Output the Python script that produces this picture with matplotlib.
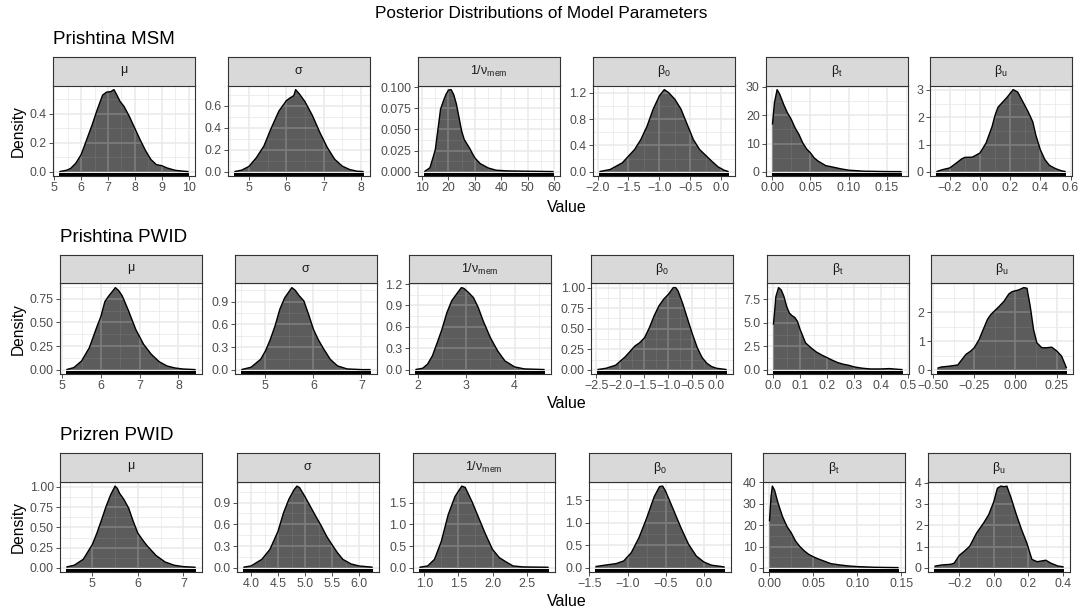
import numpy as np
import matplotlib
matplotlib.use("Agg")
import matplotlib.pyplot as plt
from matplotlib.patches import Rectangle, Polygon
import matplotlib.transforms as mtransforms

plt.rcParams['font.family'] = ['Liberation Sans', 'DejaVu Sans']
plt.rcParams['mathtext.fontset'] = 'custom'
plt.rcParams['mathtext.rm'] = 'Liberation Sans'
plt.rcParams['mathtext.it'] = 'Liberation Sans:italic'

# ---------------- data ----------------
title = "Posterior Distributions of Model Parameters"
groups = ["Prishtina MSM", "Prishtina PWID", "Prizren PWID"]
params = [r"$\mathrm{\mu}$", r"$\mathrm{\sigma}$", r"$\mathrm{1/\nu_{mem}}$",
          r"$\mathrm{\beta_0}$", r"$\mathrm{\beta_t}$", r"$\mathrm{\beta_u}$"]

# Prishtina MSM
msm_mu_x = [5.19, 5.45, 5.6, 5.8, 6.0, 6.2, 6.4, 6.6, 6.8, 6.95, 7.1, 7.22, 7.3, 7.45, 7.6, 7.8, 8.0, 8.2, 8.4, 8.6, 8.8, 9.0, 9.2, 9.5, 9.8, 10.0]
msm_mu_y = [0.002, 0.011, 0.023, 0.06, 0.12, 0.22, 0.32, 0.43, 0.53, 0.55, 0.553, 0.567, 0.54, 0.485, 0.45, 0.38, 0.30, 0.22, 0.146, 0.085, 0.05, 0.043, 0.027, 0.011, 0.005, 0.002]
msm_sigma_x = [4.61, 4.8, 5.0, 5.2, 5.4, 5.6, 5.8, 6.0, 6.1, 6.2, 6.25, 6.35, 6.5, 6.7, 6.9, 7.1, 7.3, 7.5, 7.7, 7.9, 8.07]
msm_sigma_y = [0.003, 0.015, 0.05, 0.13, 0.235, 0.40, 0.55, 0.645, 0.67, 0.69, 0.745, 0.706, 0.636, 0.51, 0.356, 0.22, 0.113, 0.052, 0.021, 0.006, 0.003]
msm_nu_x = [10.9, 13, 15, 16, 17, 18, 19, 20, 21, 22, 23, 24, 25, 26, 27, 28, 29, 30, 32, 35, 38, 42, 50, 59.8]
msm_nu_y = [0.0004, 0.005, 0.026, 0.05, 0.074, 0.083, 0.091, 0.0965, 0.097, 0.091, 0.08, 0.064, 0.048, 0.038, 0.033, 0.028, 0.022, 0.0165, 0.0098, 0.0047, 0.002, 0.0012, 0.0008, 0.0004]
msm_b0_x = [-1.97, -1.8, -1.6, -1.4, -1.3, -1.2, -1.1, -1.0, -0.92, -0.85, -0.75, -0.65, -0.55, -0.45, -0.35, -0.25, -0.15, -0.05, 0.05, 0.12]
msm_b0_y = [0.005, 0.035, 0.137, 0.34, 0.49, 0.69, 0.95, 1.15, 1.245, 1.2, 1.10, 0.95, 0.72, 0.49, 0.34, 0.25, 0.16, 0.076, 0.025, 0.005]
msm_bt_x = [0.0004, 0.003, 0.0065, 0.01, 0.015, 0.02, 0.025, 0.03, 0.035, 0.04, 0.045, 0.05, 0.055, 0.06, 0.07, 0.08, 0.09, 0.10, 0.12, 0.15, 0.169]
msm_bt_y = [16.7, 24.4, 29.0, 27.3, 23.8, 20.8, 18.5, 15.5, 13.2, 10.2, 8.1, 6.7, 4.9, 3.8, 2.2, 1.65, 1.06, 0.6, 0.25, 0.12, 0.1]
msm_bu_x = [-0.288, -0.25, -0.2, -0.15, -0.12, -0.1, -0.05, 0.0, 0.04, 0.08, 0.1, 0.12, 0.15, 0.18, 0.22, 0.25, 0.28, 0.32, 0.35, 0.37, 0.4, 0.43, 0.46, 0.5, 0.54, 0.567]
msm_bu_y = [0.01, 0.08, 0.145, 0.35, 0.48, 0.53, 0.54, 0.69, 1.05, 1.65, 2.07, 2.37, 2.55, 2.73, 3.01, 2.92, 2.61, 2.19, 1.83, 1.35, 0.81, 0.45, 0.24, 0.12, 0.04, 0.012]

# Prishtina PWID
pwid_mu_x = [5.11, 5.3, 5.5, 5.7, 5.9, 6.0, 6.1, 6.2, 6.3, 6.37, 6.45, 6.55, 6.7, 6.9, 7.1, 7.3, 7.5, 7.7, 7.9, 8.1, 8.44]
pwid_mu_y = [0.003, 0.024, 0.094, 0.234, 0.46, 0.565, 0.72, 0.78, 0.83, 0.868, 0.84, 0.78, 0.635, 0.425, 0.27, 0.164, 0.087, 0.042, 0.021, 0.01, 0.003]
pwid_sigma_x = [4.5, 4.7, 4.9, 5.0, 5.1, 5.2, 5.3, 5.4, 5.5, 5.55, 5.62, 5.7, 5.8, 5.9, 6.0, 6.1, 6.2, 6.35, 6.5, 6.7, 7.0, 7.19]
pwid_sigma_y = [0.004, 0.035, 0.14, 0.25, 0.40, 0.58, 0.80, 0.95, 1.04, 1.085, 1.05, 0.98, 0.91, 0.73, 0.535, 0.40, 0.29, 0.14, 0.053, 0.013, 0.004, 0.004]
pwid_nu_x = [1.95, 2.1, 2.2, 2.3, 2.4, 2.5, 2.6, 2.7, 2.8, 2.9, 2.95, 3.05, 3.15, 3.25, 3.35, 3.5, 3.65, 3.8, 4.0, 4.2, 4.62]
pwid_nu_y = [0.005, 0.023, 0.08, 0.196, 0.38, 0.57, 0.80, 0.966, 1.06, 1.15, 1.14, 1.08, 1.01, 0.87, 0.686, 0.45, 0.266, 0.126, 0.042, 0.014, 0.005]
pwid_b0_x = [-2.48, -2.3, -2.1, -1.9, -1.7, -1.6, -1.5, -1.4, -1.3, -1.2, -1.1, -1.0, -0.9, -0.85, -0.8, -0.7, -0.6, -0.5, -0.4, -0.3, -0.2, -0.1, 0.0, 0.21]
pwid_b0_y = [0.004, 0.02, 0.057, 0.16, 0.29, 0.33, 0.39, 0.51, 0.656, 0.777, 0.86, 0.92, 1.0, 1.0, 0.96, 0.80, 0.615, 0.433, 0.27, 0.15, 0.08, 0.04, 0.02, 0.004]
pwid_bt_x = [0.001, 0.01, 0.02, 0.03, 0.04, 0.05, 0.06, 0.07, 0.08, 0.09, 0.1, 0.12, 0.14, 0.16, 0.18, 0.2, 0.22, 0.24, 0.26, 0.28, 0.3, 0.33, 0.36, 0.4, 0.43, 0.46, 0.48]
pwid_bt_y = [4.8, 7.78, 8.73, 8.48, 7.78, 6.73, 6.03, 5.75, 5.57, 5.15, 4.28, 2.87, 2.35, 1.9, 1.58, 1.3, 1.02, 0.77, 0.6, 0.49, 0.32, 0.18, 0.1, 0.1, 0.14, 0.07, 0.03]
pwid_bu_x = [-0.473, -0.45, -0.4, -0.35, -0.3, -0.27, -0.25, -0.22, -0.2, -0.17, -0.15, -0.1, -0.07, -0.04, -0.02, 0.02, 0.05, 0.07, 0.09, 0.11, 0.13, 0.16, 0.19, 0.22, 0.25, 0.28, 0.31]
pwid_bu_y = [0.06, 0.1, 0.13, 0.17, 0.54, 0.66, 0.77, 1.06, 1.34, 1.75, 1.92, 2.2, 2.38, 2.64, 2.72, 2.78, 2.86, 2.84, 2.2, 1.4, 0.94, 0.77, 0.77, 0.79, 0.66, 0.48, 0.06]

# Prizren PWID
prz_mu_x = [4.43, 4.6, 4.8, 5.0, 5.1, 5.2, 5.3, 5.4, 5.5, 5.55, 5.6, 5.7, 5.8, 5.9, 6.0, 6.1, 6.2, 6.4, 6.6, 6.8, 7.0, 7.27]
prz_mu_y = [0.012, 0.033, 0.106, 0.29, 0.43, 0.59, 0.756, 0.9, 1.01, 0.98, 0.92, 0.84, 0.736, 0.573, 0.43, 0.35, 0.276, 0.154, 0.073, 0.033, 0.016, 0.008]
prz_sigma_x = [3.86, 4.0, 4.2, 4.35, 4.5, 4.6, 4.7, 4.8, 4.85, 4.9, 5.0, 5.1, 5.2, 5.3, 5.4, 5.5, 5.6, 5.7, 5.85, 6.0, 6.25]
prz_sigma_y = [0.01, 0.027, 0.118, 0.255, 0.505, 0.755, 0.945, 1.08, 1.127, 1.105, 0.98, 0.845, 0.71, 0.58, 0.436, 0.32, 0.21, 0.118, 0.055, 0.027, 0.01]
prz_nu_x = [0.93, 1.05, 1.15, 1.25, 1.35, 1.45, 1.55, 1.6, 1.7, 1.8, 1.9, 2.0, 2.1, 2.2, 2.3, 2.45, 2.82]
prz_nu_y = [0.015, 0.045, 0.197, 0.61, 1.22, 1.64, 1.88, 1.85, 1.52, 1.14, 0.765, 0.424, 0.235, 0.136, 0.045, 0.023, 0.015]
prz_b0_x = [-1.42, -1.3, -1.15, -1.05, -0.95, -0.85, -0.75, -0.65, -0.58, -0.54, -0.5, -0.4, -0.3, -0.2, -0.1, 0.0, 0.1, 0.27]
prz_b0_y = [0.03, 0.06, 0.095, 0.154, 0.34, 0.67, 1.1, 1.58, 1.8, 1.81, 1.69, 1.29, 0.885, 0.52, 0.263, 0.13, 0.06, 0.022]
prz_bt_x = [0.0002, 0.002, 0.0035, 0.006, 0.01, 0.015, 0.02, 0.025, 0.03, 0.035, 0.04, 0.045, 0.05, 0.055, 0.06, 0.07, 0.08, 0.09, 0.1, 0.12, 0.147]
prz_bt_y = [21.8, 33.4, 38.3, 36.4, 30.3, 24.1, 19.5, 16.4, 12.5, 9.9, 7.9, 6.3, 5.25, 4.3, 3.55, 2.0, 1.4, 0.93, 0.62, 0.3, 0.15]
prz_bu_x = [-0.344, -0.3, -0.25, -0.23, -0.2, -0.17, -0.14, -0.1, -0.06, -0.03, 0.0, 0.02, 0.04, 0.06, 0.075, 0.1, 0.13, 0.16, 0.19, 0.22, 0.25, 0.3, 0.33, 0.37, 0.403]
prz_bu_y = [0.08, 0.14, 0.17, 0.22, 0.59, 0.79, 1.02, 1.64, 2.1, 2.5, 3.12, 3.74, 3.84, 3.81, 3.84, 3.27, 2.5, 1.8, 1.18, 0.4, 0.29, 0.36, 0.22, 0.09, 0.05]

# tick labels (x and y) per panel
msm_xticks = [["5", "6", "7", "8", "9", "10"], ["5", "6", "7", "8"], ["10", "20", "30", "40", "50", "60"],
              ["−2.0", "−1.5", "−1.0", "−0.5", "0.0"], ["0.00", "0.05", "0.10", "0.15"],
              ["−0.2", "0.0", "0.2", "0.4", "0.6"]]
msm_yticks = [["0.0", "0.2", "0.4"], ["0.0", "0.2", "0.4", "0.6"], ["0.000", "0.025", "0.050", "0.075", "0.100"],
              ["0.0", "0.4", "0.8", "1.2"], ["0", "10", "20", "30"], ["0", "1", "2", "3"]]
pwid_xticks = [["5", "6", "7", "8"], ["5", "6", "7"], ["2", "3", "4"],
               ["−2.5", "−2.0", "−1.5", "−1.0", "−0.5", "0.0"], ["0.0", "0.1", "0.2", "0.3", "0.4", "0.5"],
               ["−0.50", "−0.25", "0.00", "0.25"]]
pwid_yticks = [["0.00", "0.25", "0.50", "0.75"], ["0.0", "0.3", "0.6", "0.9"], ["0.0", "0.3", "0.6", "0.9", "1.2"],
               ["0.00", "0.25", "0.50", "0.75", "1.00"], ["0.0", "2.5", "5.0", "7.5"], ["0", "1", "2"]]
prz_xticks = [["5", "6", "7"], ["4.0", "4.5", "5.0", "5.5", "6.0"], ["1.0", "1.5", "2.0", "2.5"],
              ["−1.5", "−1.0", "−0.5", "0.0"], ["0.00", "0.05", "0.10", "0.15"], ["−0.2", "0.0", "0.2", "0.4"]]
prz_yticks = [["0.00", "0.25", "0.50", "0.75", "1.00"], ["0.0", "0.3", "0.6", "0.9"], ["0.0", "0.5", "1.0", "1.5"],
              ["0.0", "0.5", "1.0", "1.5"], ["0", "10", "20", "30", "40"], ["0", "1", "2", "3", "4"]]

rows = [
    dict(name=groups[0],
         curves=[(msm_mu_x, msm_mu_y), (msm_sigma_x, msm_sigma_y), (msm_nu_x, msm_nu_y),
                 (msm_b0_x, msm_b0_y), (msm_bt_x, msm_bt_y), (msm_bu_x, msm_bu_y)],
         xt=msm_xticks, yt=msm_yticks),
    dict(name=groups[1],
         curves=[(pwid_mu_x, pwid_mu_y), (pwid_sigma_x, pwid_sigma_y), (pwid_nu_x, pwid_nu_y),
                 (pwid_b0_x, pwid_b0_y), (pwid_bt_x, pwid_bt_y), (pwid_bu_x, pwid_bu_y)],
         xt=pwid_xticks, yt=pwid_yticks),
    dict(name=groups[2],
         curves=[(prz_mu_x, prz_mu_y), (prz_sigma_x, prz_sigma_y), (prz_nu_x, prz_nu_y),
                 (prz_b0_x, prz_b0_y), (prz_bt_x, prz_bt_y), (prz_bu_x, prz_bu_y)],
         xt=prz_xticks, yt=prz_yticks),
]

# ---------------- layout (pixels) ----------------
W, H = 1086, 613
row_layout = [
    dict(strip_top=57, panel_top=85.5, panel_bot=176, lefts=[53, 228, 418, 593, 766, 930],
         sub_x=53, sub_y=40, value_y=207),
    dict(strip_top=255, panel_top=283.5, panel_bot=374, lefts=[60, 235, 409, 591, 767, 931],
         sub_x=60, sub_y=238, value_y=403),
    dict(strip_top=453, panel_top=482, panel_bot=572, lefts=[60, 237, 413, 589, 763, 928],
         sub_x=60, sub_y=435, value_y=602),
]
PW = 142

FILL = '#5c5c5c'
GRID = '#EBEBEB'
INGRID_MAJ = '#7d7d7d'
INGRID_MIN = '#6b6b6b'
DARK = '#333333'
TICKLAB = '#4D4D4D'

fig = plt.figure(figsize=(W / 100, H / 100), dpi=100)
fig.patch.set_facecolor('white')


def tick_vals(labels):
    return [float(s.replace('−', '-')) for s in labels]


def minor_vals(majors, lo, hi):
    step = majors[1] - majors[0]
    cand = [majors[0] - step / 2] + [m + step / 2 for m in majors]
    return [c for c in cand if lo <= c <= hi]


for r, (row, lay) in enumerate(zip(rows, row_layout)):
    ph = lay['panel_bot'] - lay['panel_top']
    sh = lay['panel_top'] - lay['strip_top']
    for c in range(6):
        xs = np.asarray(row['curves'][c][0], dtype=float)
        ys = np.asarray(row['curves'][c][1], dtype=float)
        left = lay['lefts'][c]
        ax = fig.add_axes([left / W, 1 - lay['panel_bot'] / H, PW / W, ph / H])
        sax = fig.add_axes([left / W, 1 - lay['panel_top'] / H, PW / W, sh / H])

        xr = xs.max() - xs.min()
        xlo, xhi = xs.min() - 0.05 * xr, xs.max() + 0.05 * xr
        ymax = ys.max()
        ylo, yhi = -0.05 * ymax, 1.05 * ymax
        ax.set_xlim(xlo, xhi)
        ax.set_ylim(ylo, yhi)

        xmaj = tick_vals(row['xt'][c])
        ymaj = tick_vals(row['yt'][c])
        xmin_ = minor_vals(xmaj, xlo, xhi)
        ymin_ = minor_vals(ymaj, ylo, yhi)

        # background grid
        for v in xmin_:
            ax.axvline(v, color=GRID, lw=0.6, zorder=0)
        for v in ymin_:
            ax.axhline(v, color=GRID, lw=0.6, zorder=0)
        for v in xmaj:
            ax.axvline(v, color=GRID, lw=1.2, zorder=0)
        for v in ymaj:
            ax.axhline(v, color=GRID, lw=1.2, zorder=0)

        # density fill
        verts = np.column_stack([np.concatenate([xs, [xs[-1], xs[0]]]),
                                 np.concatenate([ys, [0.0, 0.0]])])
        poly = Polygon(verts, closed=True, facecolor=FILL, edgecolor='none', zorder=1)
        ax.add_patch(poly)
        # grid seen through the fill
        for v in xmin_:
            ln = ax.axvline(v, color=INGRID_MIN, lw=0.6, zorder=2)
            ln.set_clip_path(poly)
        for v in ymin_:
            ln = ax.axhline(v, color=INGRID_MIN, lw=0.6, zorder=2)
            ln.set_clip_path(poly)
        for v in xmaj:
            ln = ax.axvline(v, color=INGRID_MAJ, lw=1.2, zorder=2)
            ln.set_clip_path(poly)
        for v in ymaj:
            ln = ax.axhline(v, color=INGRID_MAJ, lw=1.2, zorder=2)
            ln.set_clip_path(poly)
        ax.plot(xs, ys, color='black', lw=1.0, zorder=3, solid_capstyle='butt')

        # rug
        trans = mtransforms.blended_transform_factory(ax.transData, ax.transAxes)
        ax.add_patch(Rectangle((xs.min(), 0), xs.max() - xs.min(), 0.03, transform=trans,
                               facecolor='black', edgecolor='none', zorder=4))

        ax.set_xticks(xmaj)
        ax.set_xticklabels(row['xt'][c])
        ax.set_yticks(ymaj)
        ax.set_yticklabels(row['yt'][c])
        ax.tick_params(axis='both', direction='out', length=3, width=0.6, color=DARK,
                       labelcolor=TICKLAB, labelsize=8.9, pad=1.5)
        for sp in ax.spines.values():
            sp.set_color(DARK)
            sp.set_linewidth(0.8)
            sp.set_zorder(5)

        # strip
        sax.set_facecolor('#D9D9D9')
        sax.set_xticks([])
        sax.set_yticks([])
        for sp in sax.spines.values():
            sp.set_color(DARK)
            sp.set_linewidth(0.8)
        sax.text(0.5, 0.5, params[c], ha='center', va='center', fontsize=9,
                 color='#1A1A1A', transform=sax.transAxes)

    # row subtitle, y-label and x-label
    fig.text(lay['sub_x'] / W, 1 - lay['sub_y'] / H, row['name'], ha='left', va='center',
             fontsize=13.5, color='black')
    fig.text(18 / W, 1 - ((lay['panel_top'] + lay['panel_bot']) / 2) / H, "Density",
             rotation=90, ha='center', va='center', fontsize=11.2, color='black')
    fig.text(567 / W, 1 - lay['value_y'] / H, "Value", ha='center', va='center',
             fontsize=11.5, color='black')

fig.text(541 / W, 1 - 14 / H, title, ha='center', va='center', fontsize=12.3, color='black')

fig.savefig("out.png", dpi=100)
